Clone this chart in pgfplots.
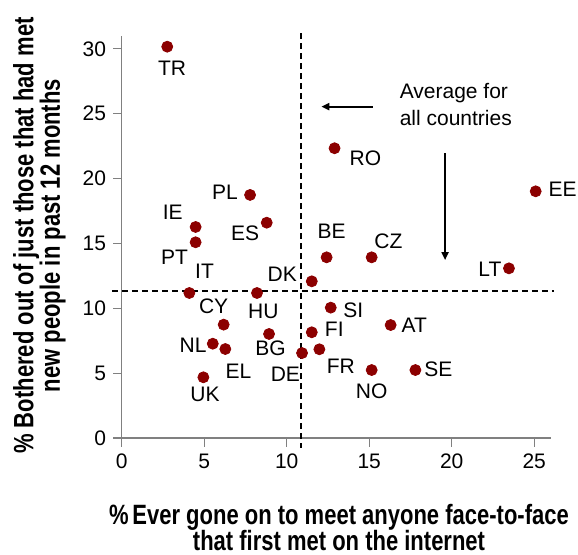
\documentclass[border=0pt]{standalone}
\usepackage{pgfplots}
\pgfplotsset{compat=1.18}
\usepackage{pgfplotstable}
\usepackage{fontspec}
\setmainfont{Liberation Sans}
\usetikzlibrary{arrows.meta}
\definecolor{dotred}{RGB}{140,0,0}
\definecolor{axgray}{RGB}{128,128,128}

\pgfplotstableread{
name x y
TR 2.76 30.17
PL 7.78 18.74
IE 4.48 16.27
PT 4.48 15.09
ES 8.79 16.60
RO 12.90 22.34
EE 25.09 19.02
BE 12.42 13.93
CZ 15.15 13.93
LT 23.47 13.08
DK 11.52 12.08
IT 4.10 11.18
HU 8.20 11.18
SI 12.67 10.05
CY 6.18 8.74
FI 11.52 8.15
BG 8.93 8.02
NL 5.52 7.27
EL 6.28 6.86
FR 11.98 6.84
DE 10.93 6.55
AT 16.30 8.71
NO 15.15 5.24
SE 17.80 5.24
UK 4.95 4.68
}\data

\newcommand{\lab}[5]{\node[inner sep=0pt, font=\fontsize{10.5}{12}\selectfont, xshift=#4pt, yshift=#5pt] at (axis cs:#2,#3) {#1};}

\begin{document}
\begin{tikzpicture}
\useasboundingbox (-60.85pt,-58.5pt) rectangle (228.15pt,219pt);
\begin{axis}[
 anchor=origin, at={(0,0)},
 x=8.25pt, y=6.485pt,
 xmin=0,xmax=26,ymin=0,ymax=31,
 axis x line=bottom, axis y line=left,
 axis line style={-, draw=axgray, line width=0.6pt},
 xtick={0,5,...,25}, ytick={0,5,...,30},
 tick align=outside, major tick length=4.3pt,
 tick style={axgray, line width=0.6pt},
 ticklabel style={font=\fontsize{10.5}{12}\selectfont, black},
 /pgf/number format/assume math mode=true,
 clip=false,
]
\addplot[black, line width=1pt, dash pattern=on 3pt off 2pt] coordinates {(10.87,31.2) (10.87,-0.77)};
\addplot[black, line width=1pt, dash pattern=on 3pt off 2pt] coordinates {(-0.6,11.36) (26.2,11.36)};
\addplot[black, line width=1pt, -{Triangle[length=4pt,width=3.5pt]}] coordinates {(15.2,25.55) (12.1,25.55)};
\addplot[black, line width=1pt, -{Triangle[length=4pt,width=3.5pt]}] coordinates {(19.6,21.95) (19.6,13.72)};

\addplot[only marks, mark=*, mark size=2.75pt, mark options={draw=dotred, fill=dotred}]
 table[x=x,y=y]{\data};

\lab{TR}{2.76}{30.17}{2.45}{-10.9}
\lab{PL}{7.78}{18.74}{-12.5}{1.25}
\lab{IE}{4.48}{16.27}{-11.45}{7.25}
\lab{PT}{4.48}{15.09}{-10.5}{-7.45}
\lab{ES}{8.79}{16.60}{-10.75}{-5.25}
\lab{RO}{12.90}{22.34}{15.4}{-5.0}
\lab{EE}{25.09}{19.02}{13.5}{1.0}
\lab{BE}{12.42}{13.93}{2.5}{13.0}
\lab{CZ}{15.15}{13.93}{8.35}{7.9}
\lab{LT}{23.47}{13.08}{-9.5}{-0.5}
\lab{DK}{11.52}{12.08}{-14.75}{3.75}
\lab{IT}{4.10}{11.18}{7.6}{10.65}
\lab{HU}{8.20}{11.18}{3.15}{-9.15}
\lab{SI}{12.67}{10.05}{11.3}{-1.15}
\lab{CY}{6.18}{8.74}{-5.0}{9.25}
\lab{FI}{11.52}{8.15}{11.25}{1.55}
\lab{BG}{8.93}{8.02}{0.75}{-7.0}
\lab{NL}{5.52}{7.27}{-9.85}{-0.65}
\lab{EL}{6.28}{6.86}{6.6}{-10.9}
\lab{FR}{11.98}{6.84}{10.75}{-8.25}
\lab{DE}{10.93}{6.55}{-8.35}{-10.4}
\lab{AT}{16.30}{8.71}{11.8}{-0.15}
\lab{NO}{15.15}{5.24}{0}{-10.5}
\lab{SE}{17.80}{5.24}{11.5}{0.4}
\lab{UK}{4.95}{4.68}{0.85}{-8.7}

\node[anchor=west, align=left, inner sep=0pt, font=\fontsize{10.5}{13.8}\selectfont] at (axis cs:16.83,25.71) {Average for\\all countries};
\node[xscale=0.88, yscale=1.117, transform shape, font=\bfseries\fontsize{12.5}{11.8}\selectfont, align=center, inner sep=0pt] at (axis cs:13.17,-6.92) {\%\,Ever gone on to meet anyone face-to-face\\that first met on the internet};
\node[rotate=90, xscale=0.88, yscale=1.117, transform shape, font=\bfseries\fontsize{12.5}{11.8}\selectfont, align=center, inner sep=0pt] at (axis cs:-4.99,15.61) {\% Bothered out of just those that had met\\new people in past 12 months};
\end{axis}
\end{tikzpicture}
\end{document}
